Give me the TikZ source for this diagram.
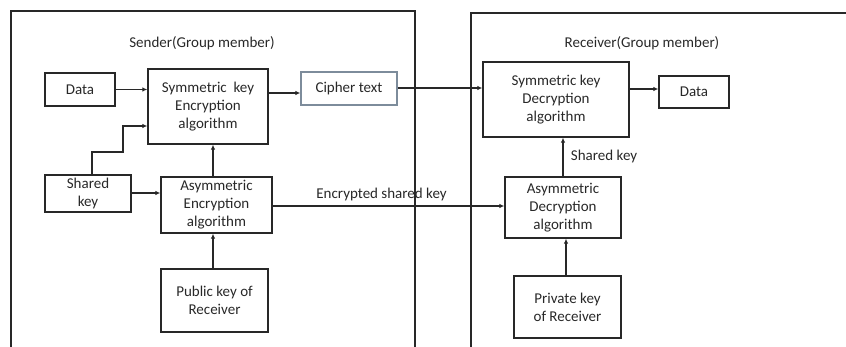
\documentclass[tikz,border=0pt]{standalone}
\usepackage{fontspec}
\setmainfont{Carlito}
\usetikzlibrary{arrows.meta}
\definecolor{ln}{RGB}{40,40,40}
\definecolor{cbord}{RGB}{125,140,155}
\begin{document}
\begin{tikzpicture}[x=1pt,y=-1pt,
  every node/.style={font=\fontsize{15}{18}\selectfont, text=ln},
  blk/.style={draw=ln, line width=1.3pt, rectangle, inner sep=0pt, align=center},
  conn/.style={draw=ln, line width=1.3pt, -{Latex[length=5pt,width=4.5pt]}},
  frame/.style={draw=ln, line width=1.3pt}]
\useasboundingbox (0,0) rectangle (846,347);
% frames
\draw[frame] (11,347) -- (11,11) -- (415,11) -- (415,347);
\draw[frame] (471,347) -- (471,13) -- (846,13);
\node at (202,43) {Sender(Group member)};
\node at (642,43) {Receiver(Group member)};
% sender nodes
\node[blk, minimum width=70pt, minimum height=33pt] (data1) at (80,89.5) {Data};
\node[blk, minimum width=120pt, minimum height=75pt] (senc) at (208,106.5) {Symmetric\ \ key\\Encryption\\algorithm};
\node[blk, draw=cbord, minimum width=96pt, minimum height=33pt] (cipher) at (349,88.5) {Cipher text};
\node[blk, minimum width=86pt, minimum height=37pt] (skey) at (88,193.5) {Shared\\key};
\node[blk, minimum width=111pt, minimum height=56pt] (aenc) at (216.5,205) {Asymmetric\\Encryption\\algorithm};
\node[blk, minimum width=107pt, minimum height=63pt] (pub) at (214.5,300.5) {Public key of\\Receiver};
% receiver nodes
\node[blk, minimum width=146pt, minimum height=75pt] (sdec) at (556,99.5) {Symmetric key\\Decryption\\algorithm};
\node[blk, minimum width=70pt, minimum height=32pt] (data2) at (694,92) {Data};
\node[blk, minimum width=116pt, minimum height=61pt] (adec) at (563,207.5) {Asymmetric\\Decryption\\algorithm};
\node[blk, minimum width=107pt, minimum height=62pt] (priv) at (567.5,307) {Private key\\of Receiver};
% connectors
\draw[conn] (data1.east) -- (senc.west |- data1.east);
\draw[conn] (senc.east |- 0,93) -- (cipher.west |- 0,93);
\draw[conn] (cipher.east |- 0,88) -- (sdec.west |- 0,88);
\draw[conn] (sdec.east |- 0,89) -- (data2.west |- 0,89);
\coordinate (s1) at (92,152);
\coordinate (s2) at (123,152);
\coordinate (s3) at (123,126);
\draw[conn] (skey.north -| s1) -- (s1) -- (s2) -- (s3) -- (senc.west |- s3);
\draw[conn] (skey.east |- 0,193) -- (aenc.west |- 0,193);
\draw[conn] (aenc.north -| 213,0) -- (senc.south -| 213,0);
\draw[conn] (pub.north -| 213,0) -- (aenc.south -| 213,0);
\draw[conn] (aenc.east |- 0,206) -- (adec.west |- 0,206) node[pos=0.47, above=1pt] {Encrypted shared key};
\draw[conn] (adec.north -| 563,0) -- (sdec.south -| 563,0) node[pos=0.5, right=4pt] {Shared key};
\draw[conn] (priv.north -| 566,0) -- (adec.south -| 566,0);
\end{tikzpicture}
\end{document}
